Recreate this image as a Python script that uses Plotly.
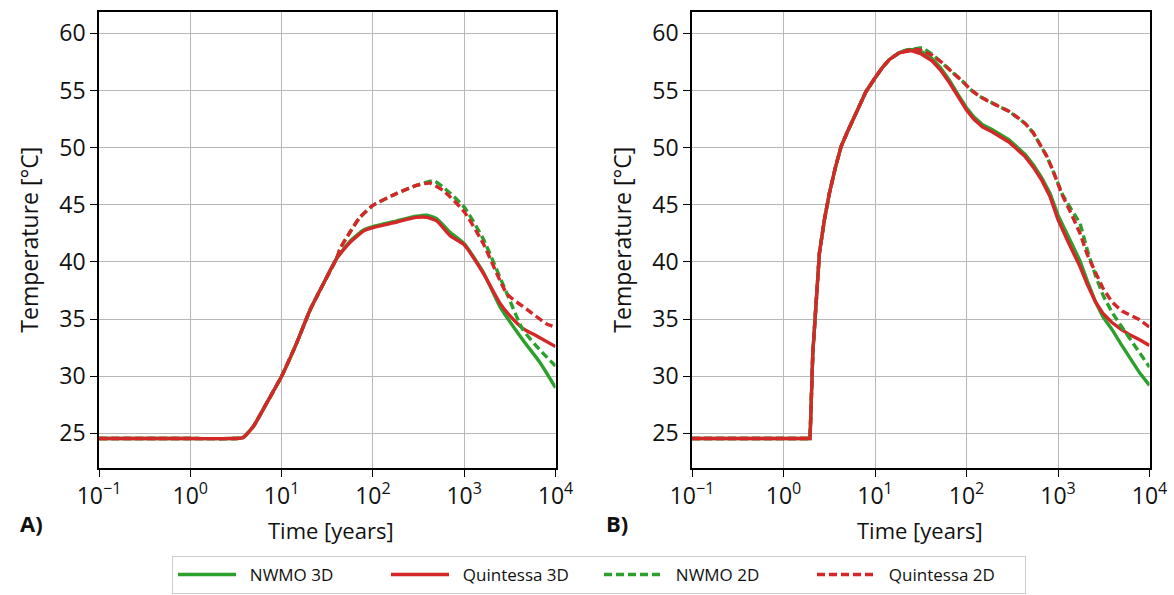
import plotly.graph_objects as go

# ---------------- Panel A data ----------------
tA_nwmo3d = [0.1, 1, 3, 3.8, 4.9, 6.8, 10, 14.6, 20.5, 28.7, 40, 56, 79, 100, 183, 300, 390, 500, 700, 1000, 1620, 2460, 4370, 6760, 10000]
TA_nwmo3d = [24.55, 24.55, 24.55, 24.65, 25.6, 27.6, 30.0, 32.9, 35.8, 38.1, 40.3, 41.8, 42.8, 43.1, 43.6, 44.0, 44.1, 43.8, 42.6, 41.6, 39.1, 36.1, 33.2, 31.2, 29.0]

tA_quin3d = [0.1, 1, 3, 3.8, 4.9, 6.8, 10, 14.6, 20.5, 28.7, 40, 56, 79, 100, 183, 300, 390, 500, 700, 1000, 1620, 2460, 3160, 4370, 6300, 10000]
TA_quin3d = [24.55, 24.55, 24.55, 24.65, 25.6, 27.6, 30.0, 32.9, 35.8, 38.1, 40.3, 41.7, 42.7, 43.0, 43.5, 43.9, 43.9, 43.6, 42.3, 41.5, 39.0, 36.4, 35.3, 34.2, 33.5, 32.6]

tA_nwmo2d = [0.1, 1, 3, 3.8, 4.9, 6.8, 10, 14.6, 20.5, 28.7, 40, 44, 56, 72, 100, 183, 300, 465, 600, 1000, 1620, 2950, 4370, 6760, 10000]
TA_nwmo2d = [24.55, 24.55, 24.55, 24.65, 25.6, 27.6, 30.0, 32.9, 35.8, 38.1, 40.3, 41.2, 42.6, 43.9, 44.95, 46.0, 46.7, 47.1, 46.5, 44.8, 42.0, 37.2, 34.1, 32.3, 30.9]

tA_quin2d = [0.1, 1, 3, 3.8, 4.9, 6.8, 10, 14.6, 20.5, 28.7, 40, 44, 56, 72, 100, 183, 300, 420, 600, 1000, 1620, 2950, 4790, 7940, 10000]
TA_quin2d = [24.55, 24.55, 24.55, 24.65, 25.6, 27.6, 30.0, 32.9, 35.8, 38.1, 40.3, 41.2, 42.6, 43.9, 44.95, 46.0, 46.7, 46.9, 46.2, 44.4, 41.6, 37.2, 35.9, 34.6, 34.3]

# ---------------- Panel B data ----------------
tB_nwmo3d = [0.1, 1.95, 2.09, 2.27, 2.47, 2.8, 3.17, 3.7, 4.26, 5.0, 5.7, 6.8, 7.96, 10, 12, 14.3, 18.3, 22, 28, 34, 42, 52, 65, 80, 100, 120, 150, 190, 231, 290, 352, 440, 537, 660, 820, 1000, 1300, 1740, 2100, 2570, 3100, 3890, 4900, 6170, 7800, 10000]
TB_nwmo3d = [24.55, 24.55, 32.0, 36.4, 40.8, 43.7, 46.0, 48.3, 50.1, 51.4, 52.4, 53.8, 54.9, 56.1, 57.0, 57.7, 58.3, 58.55, 58.6, 58.3, 57.8, 57.0, 55.9, 54.7, 53.5, 52.7, 52.0, 51.6, 51.2, 50.7, 50.1, 49.4, 48.5, 47.4, 46.0, 44.1, 42.2, 40.1, 38.3, 36.5, 35.2, 34.1, 32.8, 31.5, 30.3, 29.2]

tB_quin3d = [0.1, 1.95, 2.09, 2.27, 2.47, 2.8, 3.17, 3.7, 4.26, 5.0, 5.7, 6.8, 7.96, 10, 12, 14.3, 18.3, 25, 32, 42, 52, 65, 80, 100, 120, 150, 190, 231, 290, 352, 440, 537, 660, 820, 1000, 1300, 1740, 2100, 2570, 3100, 3890, 4900, 6170, 7800, 10000]
TB_quin3d = [24.55, 24.55, 32.0, 36.4, 40.8, 43.7, 46.0, 48.3, 50.1, 51.4, 52.4, 53.8, 54.9, 56.1, 57.0, 57.7, 58.3, 58.5, 58.2, 57.6, 56.8, 55.7, 54.5, 53.3, 52.5, 51.8, 51.4, 51.0, 50.5, 49.9, 49.2, 48.3, 47.2, 45.7, 43.7, 41.7, 39.6, 38.0, 36.5, 35.5, 34.7, 34.1, 33.6, 33.2, 32.7]

tB_nwmo2d = [0.1, 1.95, 2.09, 2.27, 2.47, 2.8, 3.17, 3.7, 4.26, 5.0, 5.7, 6.8, 7.96, 10, 12, 14.3, 18.3, 24, 33, 42, 55, 70, 91, 110, 138, 180, 229, 290, 355, 440, 537, 640, 760, 880, 1000, 1120, 1400, 1740, 2100, 2570, 3100, 3890, 4900, 6170, 7800, 10000]
TB_nwmo2d = [24.55, 24.55, 32.0, 36.4, 40.8, 43.7, 46.0, 48.3, 50.1, 51.4, 52.4, 53.8, 54.9, 56.1, 57.0, 57.7, 58.3, 58.6, 58.75, 58.2, 57.4, 56.6, 55.8, 55.1, 54.5, 54.0, 53.6, 53.2, 52.7, 52.1, 51.3, 50.3, 49.2, 48.0, 46.9, 45.9, 44.6, 43.4, 41.0, 38.8, 37.1, 35.6, 34.4, 33.2, 32.0, 30.8]

tB_quin2d = [0.1, 1.95, 2.09, 2.27, 2.47, 2.8, 3.17, 3.7, 4.26, 5.0, 5.7, 6.8, 7.96, 10, 12, 14.3, 18.3, 24, 30, 42, 55, 70, 91, 110, 138, 180, 229, 290, 355, 440, 537, 640, 760, 880, 1000, 1120, 1400, 1740, 2100, 2570, 3100, 3890, 5000, 7590, 10000]
TB_quin2d = [24.55, 24.55, 32.0, 36.4, 40.8, 43.7, 46.0, 48.3, 50.1, 51.4, 52.4, 53.8, 54.9, 56.1, 57.0, 57.7, 58.3, 58.55, 58.6, 58.1, 57.4, 56.6, 55.8, 55.1, 54.5, 54.0, 53.6, 53.2, 52.7, 52.1, 51.3, 50.3, 49.2, 48.0, 46.8, 45.8, 44.2, 42.5, 40.6, 39.0, 37.7, 36.5, 35.7, 35.0, 34.3]

series_names = ["NWMO 3D", "Quintessa 3D", "NWMO 2D", "Quintessa 2D"]
x_tickvals = [0.1, 1, 10, 100, 1000, 10000]
x_ticktext = ["10<sup>\u22121</sup>", "10<sup>0</sup>", "10<sup>1</sup>", "10<sup>2</sup>", "10<sup>3</sup>", "10<sup>4</sup>"]
y_tickvals = [25, 30, 35, 40, 45, 50, 55, 60]

GREEN = "#2ca02c"
RED = "#d62728"
DASH = "8px,4px"
LW = 3.4

W, H = 1174, 595
def px(x):
    return x / W
def py(y):
    return 1 - y / H

fig = go.Figure()

panels = [
    ("x", "y", "spline", [(tA_nwmo3d, TA_nwmo3d), (tA_quin3d, TA_quin3d), (tA_nwmo2d, TA_nwmo2d), (tA_quin2d, TA_quin2d)]),
    ("x2", "y2", "linear", [(tB_nwmo3d, TB_nwmo3d), (tB_quin3d, TB_quin3d), (tB_nwmo2d, TB_nwmo2d), (tB_quin2d, TB_quin2d)]),
]
styles = [(GREEN, "solid"), (RED, "solid"), (GREEN, DASH), (RED, DASH)]

for pi, (xa, ya, shape, data) in enumerate(panels):
    for si, (t, T) in enumerate(data):
        col, dash = styles[si]
        line = dict(color=col, width=LW, dash=dash, shape=shape)
        if shape == "spline":
            line["smoothing"] = 0.5
        fig.add_trace(go.Scatter(
            x=t, y=T, mode="lines", xaxis=xa, yaxis=ya,
            name="\u00a0\u00a0" + series_names[si], showlegend=(pi == 0), line=line,
        ))

font_main = "Open Sans, DejaVu Sans, sans-serif"
font_leg = "Liberation Sans Narrow, Open Sans, sans-serif"
ydom = [py(467.7), py(11.7)]
common_x = dict(type="log", range=[-1, 4], tickvals=x_tickvals, ticktext=x_ticktext,
                showgrid=True, gridcolor="#b8b8b8", gridwidth=1,
                showline=True, linecolor="black", linewidth=1.6, mirror=True,
                ticks="outside", ticklen=7, tickwidth=1.4, tickcolor="black", automargin=False,
                tickfont=dict(family=font_main, size=23, color="#111"), zeroline=False)
common_y = dict(range=[22.0, 61.9], tickvals=y_tickvals,
                showgrid=True, gridcolor="#b8b8b8", gridwidth=1,
                showline=True, linecolor="black", linewidth=1.6, mirror=True,
                ticks="outside", ticklen=7, tickwidth=1.4, tickcolor="black", automargin=False,
                tickfont=dict(family=font_main, size=23, color="#111"), zeroline=False)

fig.update_layout(
    width=W, height=H,
    margin=dict(l=0, r=0, t=0, b=0, autoexpand=False),
    paper_bgcolor="white", plot_bgcolor="white",
    xaxis=dict(domain=[px(99), px(555.5)], anchor="y", **common_x),
    yaxis=dict(domain=ydom, anchor="x", **common_y),
    xaxis2=dict(domain=[px(692), px(1149.5)], anchor="y2", **common_x),
    yaxis2=dict(domain=ydom, anchor="x2", **common_y),
    legend=dict(orientation="h", x=px(599), xanchor="center", y=py(594), yanchor="bottom",
                bordercolor="#cccccc", borderwidth=1, bgcolor="white",
                font=dict(family=font_leg, size=17, color="#111"),
                itemwidth=58, entrywidth=140, tracegroupgap=0),
    showlegend=True,
)

annots = [
    dict(text="Temperature [°C]", x=px(29), y=(ydom[0] + ydom[1]) / 2, textangle=-90, font_size=23),
    dict(text="Temperature [°C]", x=px(622), y=(ydom[0] + ydom[1]) / 2, textangle=-90, font_size=23),
    dict(text="Time [years]", x=px(331), y=py(530), font_size=22),
    dict(text="Time [years]", x=px(920), y=py(530), font_size=22),
    dict(text="<b>A)</b>", x=px(31), y=py(523), font_size=22),
    dict(text="<b>B)</b>", x=px(617), y=py(523), font_size=22),
]
for a in annots:
    fig.add_annotation(xref="paper", yref="paper", x=a["x"], y=a["y"], text=a["text"],
                       showarrow=False, textangle=a.get("textangle", 0),
                       xanchor="center", yanchor="middle",
                       font=dict(family=font_main, size=a["font_size"], color="#111"))

fig.write_html("out.html")
